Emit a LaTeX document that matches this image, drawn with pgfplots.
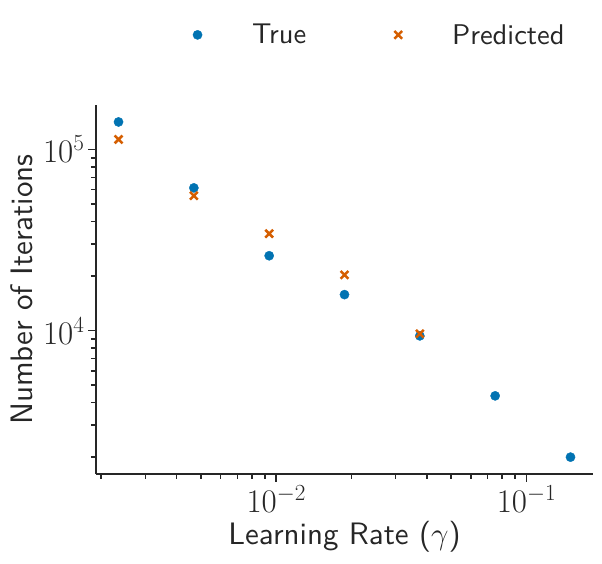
\RequirePackage{fix-cm}
\documentclass[border=0pt]{standalone}
\usepackage{fontspec}
\setsansfont{lmsans10-regular.otf}
\usepackage{pgfplots}
\pgfplotsset{compat=1.18}
\definecolor{cbblue}{HTML}{0173B2}
\definecolor{cbred}{HTML}{D55E00}
\definecolor{spine}{HTML}{262626}
\pgfplotsset{mylegimg/.style={legend image code/.code={\draw[mark repeat=2,mark phase=2,##1] plot coordinates {(0pt,0pt)(20pt,0pt)(40pt,0pt)};}}}
\begin{document}
\begin{tikzpicture}
\useasboundingbox (-96pt,-90pt) rectangle (506pt,474pt);
\begin{axis}[
  at={(0,0)}, anchor=south west,
  scale only axis, width=497pt, height=369pt,
  xmode=log, ymode=log,
  xmin=1.905e-3, xmax=0.1845, ymin=1614, ymax=1.762e5,
  axis x line*=bottom, axis y line*=left,
  axis line style={line width=2pt, spine},
  tick align=outside,
  major tick length=8pt, minor tick length=5pt,
  every tick/.style={spine, line width=1.6pt},
  xtick={1e-2,1e-1}, ytick={1e4,1e5},
  minor xtick={2e-3,3e-3,4e-3,5e-3,6e-3,7e-3,8e-3,9e-3,2e-2,3e-2,4e-2,5e-2,6e-2,7e-2,8e-2,9e-2},
  minor ytick={2e3,3e3,4e3,5e3,6e3,7e3,8e3,9e3,2e4,3e4,4e4,5e4,6e4,7e4,8e4,9e4},
  font=\fontsize{31}{37}\selectfont,
  tick label style={font=\fontsize{33}{39}\selectfont, text=spine},
  xlabel={\sffamily Learning Rate ($\gamma$)},
  ylabel={\sffamily Number of Iterations},
  xlabel style={at={(axis description cs:0.5,0)}, anchor=base, yshift=-71pt, text=spine},
  ylabel style={at={(axis description cs:-0.1268,0.5)}, anchor=base, text=spine},
  legend columns=2,
  legend style={at={(axis description cs:0.571,1.19)}, anchor=center, draw=none, fill=none,
    font=\fontsize{28.5}{34}\selectfont\sffamily, text=spine,
    /tikz/every odd column/.append style={column sep=48pt},
    /tikz/every even column/.append style={column sep=86pt}},
]
\addplot[only marks, mark=*, mark size=4.6pt, color=cbblue, mark options={draw=cbblue, fill=cbblue}, mylegimg]
  coordinates {(0.00234375,1.42e5) (0.0046875,6.14e4) (0.009375,2.59e4) (0.01875,1.58e4) (0.0375,9.35e3) (0.075,4.36e3) (0.15,2.0e3)};
\addlegendentry{True}
\addplot[only marks, mark=x, mark size=5.5pt, color=cbred, mark options={line width=2.5pt, draw=cbred}, mylegimg]
  coordinates {(0.00234375,1.136e5) (0.0046875,5.56e4) (0.009375,3.43e4) (0.01875,2.03e4) (0.0375,9.6e3)};
\addlegendentry{Predicted}
\end{axis}
\end{tikzpicture}
\end{document}
